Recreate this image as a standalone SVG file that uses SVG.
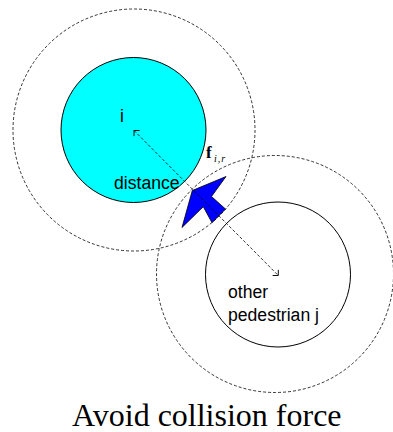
<svg xmlns="http://www.w3.org/2000/svg" width="393" height="432" viewBox="0 0 393 432">
<style>
.dash{fill:none;stroke:#000;stroke-width:0.8;stroke-dasharray:3,2}
.solid{stroke:#000;stroke-width:1}
.lbl{font-family:"Liberation Sans",Arial,sans-serif;font-size:17.6px;fill:#000}
</style>
<defs>
<marker id="chev" viewBox="-6 -6 12 12" markerWidth="12" markerHeight="12" refX="0" refY="0" orient="auto-start-reverse" markerUnits="userSpaceOnUse">
<path d="M-4,-4 L0,0 L-4,4" fill="none" stroke="#000" stroke-width="0.9"/>
</marker>
</defs>
<g id="node-i">
<circle class="dash" cx="134" cy="130" r="121"/>
<circle class="solid" cx="133.5" cy="130" r="72.5" fill="#00ffff"/>
<text class="lbl" x="120" y="122">i</text>
<text class="lbl" x="114" y="189">distance</text>
</g>
<g id="node-j">
<circle class="dash" cx="275" cy="274" r="118.5"/>
<circle class="solid" cx="278" cy="274.5" r="72.5" fill="none"/>
<text class="lbl" x="228" y="298">other</text>
<text class="lbl" x="228" y="321">pedestrian j</text>
</g>
<g id="force">
<polygon points="192.3,190.5 226,176.5 211.5,196.5 225.5,209 212,222.7 203.3,206.7 182,227.5" fill="#0000ff" stroke="#000" stroke-width="0.8"/>
<text x="206" y="158" font-family="Liberation Serif,'Times New Roman',serif" font-size="17" font-weight="bold">f</text>
<text x="214" y="162" font-family="Liberation Serif,'Times New Roman',serif" font-size="10" font-style="italic" letter-spacing="1">i,r</text>
</g>
<g id="connectors">
<line x1="134" y1="130.5" x2="278.3" y2="275.5" class="dash" marker-start="url(#chev)" marker-end="url(#chev)"/>
</g>
<text x="72" y="426" font-family="Liberation Serif,'Times New Roman',serif" font-size="32" fill="#000">Avoid collision force</text>
</svg>
